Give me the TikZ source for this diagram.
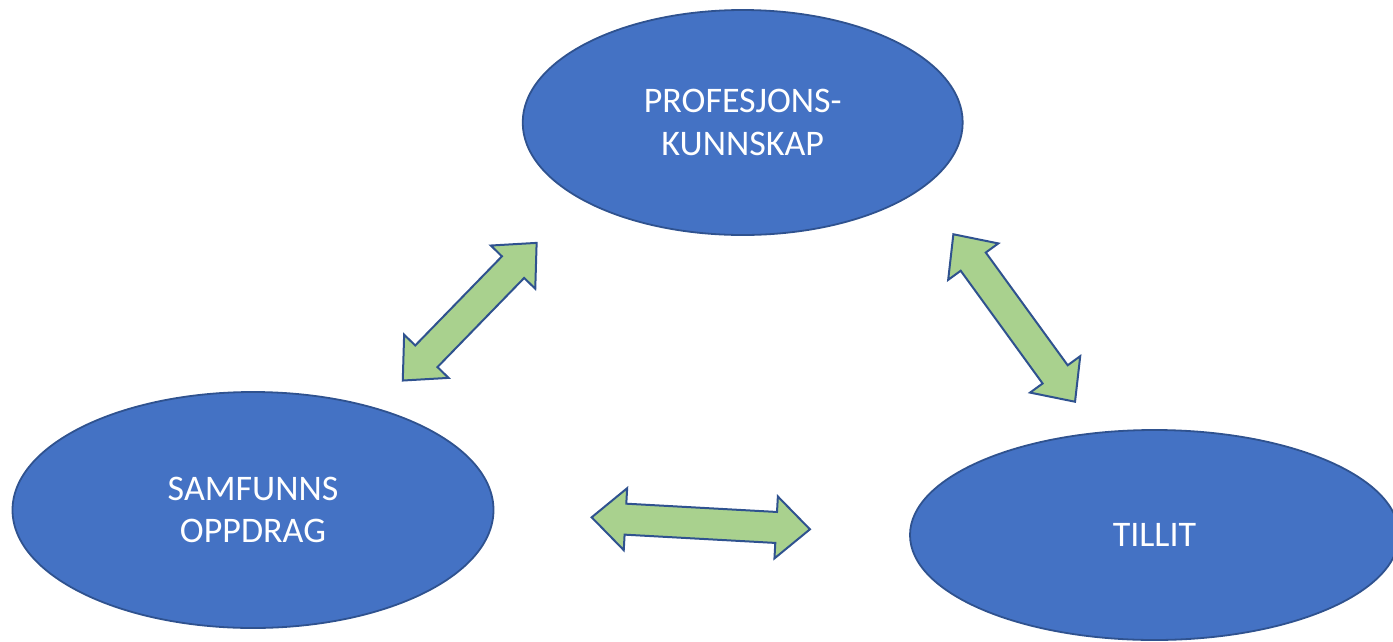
\documentclass[tikz,border=0pt]{standalone}
\usepackage{fontspec}
\setmainfont{Carlito}
\usetikzlibrary{shapes.geometric,shapes.arrows}
\definecolor{topicblue}{HTML}{4472C4}
\definecolor{rimblue}{HTML}{2F528F}
\definecolor{linkgreen}{HTML}{A9D18E}
\tikzset{
    topic/.style = {
        draw=rimblue,
        fill=topicblue,
        shape=ellipse,
        inner sep=0pt,
        line width=1.8pt,
        text=white,
        align=center,
        font=\fontsize{36}{42.7}\selectfont
    },
    link/.style = {
        draw=rimblue,
        fill=linkgreen,
        shape=double arrow,
        line width=2pt,
        inner xsep=0pt,
        inner ysep=14.5pt,
        minimum width=60pt,
        double arrow head extend=15.5pt,
        double arrow tip angle=85
    },
}

\begin{document}
\begin{tikzpicture}[x=1pt,y=-1pt]
            \useasboundingbox (0,0) rectangle (1393,641);
            \clip (0,0) rectangle (1393,641);

            \node[topic, minimum width=440pt, minimum height=225pt] (prof) at (742.7,122.5) {PROFESJONS-\\KUNNSKAP};
            \node[topic, minimum width=481pt, minimum height=236pt] (samf) at (253,510) {SAMFUNNS\\OPPDRAG};
            \node[topic, minimum width=489pt, minimum height=210pt] (till) at (1154.5,535) {TILLIT};

            \node[link, minimum height=192pt, rotate=45.8] (profsamf) at (469.7,311.7) {};
            \node[link, minimum height=207pt, rotate=-54] (proftill) at (1014.2,318) {};
            \node[link, minimum height=218.6pt, rotate=-3.15] (samftill) at (700.8,523.3) {};
\end{tikzpicture}
\end{document}
